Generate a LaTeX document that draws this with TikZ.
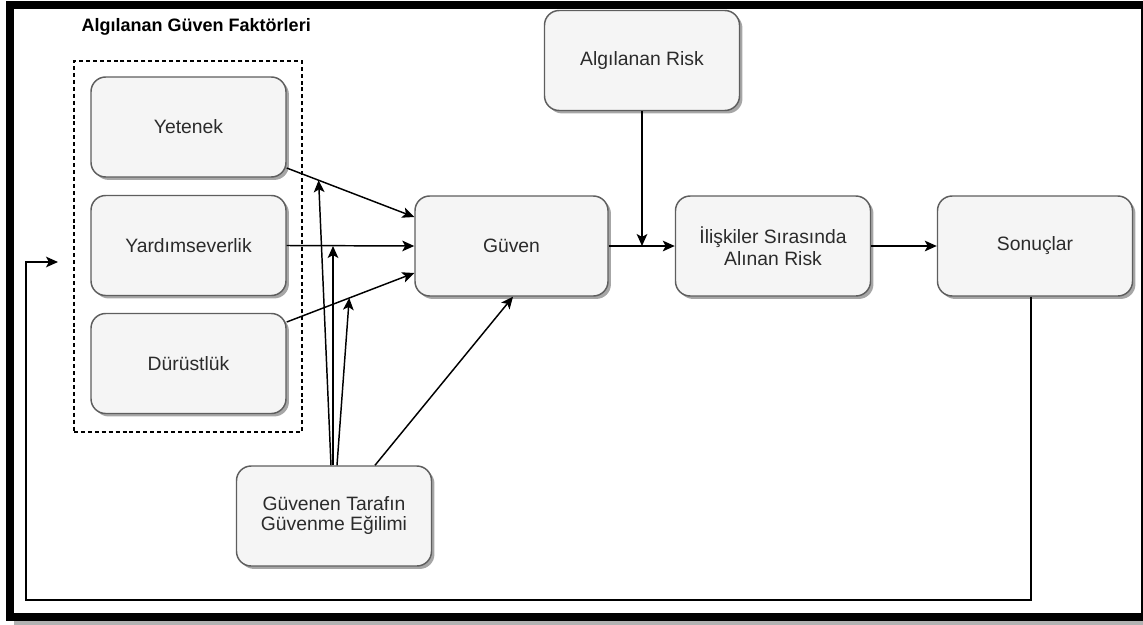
\documentclass[tikz,border=0pt]{standalone}
\usepackage{fontspec}
\setmainfont{Liberation Sans}
\usetikzlibrary{arrows.meta,calc,shadows}
\definecolor{boxfill}{HTML}{F5F5F5}
\definecolor{boxline}{HTML}{5E5E5E}
\definecolor{boxtext}{HTML}{2B2B2B}

\begin{document}
\begin{tikzpicture}[x=0.75pt,y=-0.75pt,
  box/.style={draw=boxline, fill=boxfill, line width=1.1pt, rounded corners=11pt,
    minimum width=146.25pt, minimum height=75pt, inner sep=0pt, align=center,
    text=boxtext, font=\fontsize{14.5}{16.5}\selectfont,
    drop shadow={shadow xshift=2.2pt, shadow yshift=-2.2pt, opacity=0.35, fill=black}},
  conn/.style={line width=1.1pt, -{Stealth[length=9pt,width=8pt,inset=2.2pt]}},
  group/.style={draw, line width=0.9pt, dash pattern=on 3pt off 2.2pt,
    minimum width=171pt, minimum height=278.25pt, inner sep=0pt}
]
\useasboundingbox (0,0) rectangle (1143,625);

% outer frame with its shadow
\fill[black!30] (14,620) rectangle (1143,625);
\draw[line width=6pt] (10,5) rectangle (1145,617);

% group of perceived trust factors
\node[font=\bfseries\fontsize{13.5}{16}\selectfont, anchor=west] (title) at (77,27) {Algılanan Güven Faktörleri};
\node[group] (grp) at (188,246.5) {};

\node[box] (yet) at (188.5,127) {Yetenek};
\node[box] (yar) at (188.5,245.5) {Yardımseverlik};
\node[box] (dur) at (188.5,363.5) {Dürüstlük};

\node[box, minimum width=144.75pt] (gv) at (511.5,246) {Güven};
\node[box] (ar) at (642,60.5) {Algılanan Risk};
\node[box] (il) at (773,246) {İlişkiler Sırasında\\Alınan Risk};
\node[box] (so) at (1035,246) {Sonuçlar};
\node[box, font=\fontsize{14.5}{15}\selectfont] (gt) at (334,516) {Güvenen Tarafın\\Güvenme Eğilimi};

% factors into trust
\coordinate (y1) at ($(yet.east)+(0,41)$);
\coordinate (y2) at ($(gv.west)+(0,-29)$);
\draw[conn] (y1) -- (y2);
\draw[conn] (yar.east) -- (gv.west);
\coordinate (d1) at ($(dur.east)+(0,-41.5)$);
\coordinate (d2) at ($(gv.west)+(0,27)$);
\draw[conn] (d1) -- (d2);

% propensity to trust
\coordinate (g1) at ($(gt.north)+(-3,0)$);
\coordinate (g2) at ($(gt.north)+(-1,0)$);
\coordinate (g3) at ($(gt.north)+(3,0)$);
\coordinate (g4) at ($(gt.north)+(41,0)$);
\draw[conn] (g1) -- ($(y1)!0.25!(y2)$);
\draw[conn] (g2) -- (g2 |- gv.west);
\draw[conn] (g3) -- ($(d1)!0.49!(d2)$);
\draw[conn] (g4) -- ($(gv.south)+(1.5,0)$);

% main chain
\draw[conn] (gv.east) -- (il.west);
\draw[conn] (ar.south) -- (ar.south |- gv.east);
\draw[conn] (il.east) -- (so.west);

% feedback loop
\coordinate (fbtop) at ($(so.south)+(-4,0)$);
\coordinate (fbbot) at (26,600);
\coordinate (fbend) at (58,262);
\draw[conn] (fbtop) -- (fbtop |- fbbot) -- (fbbot) -- (fbbot |- fbend) -- (fbend);
\end{tikzpicture}
\end{document}
